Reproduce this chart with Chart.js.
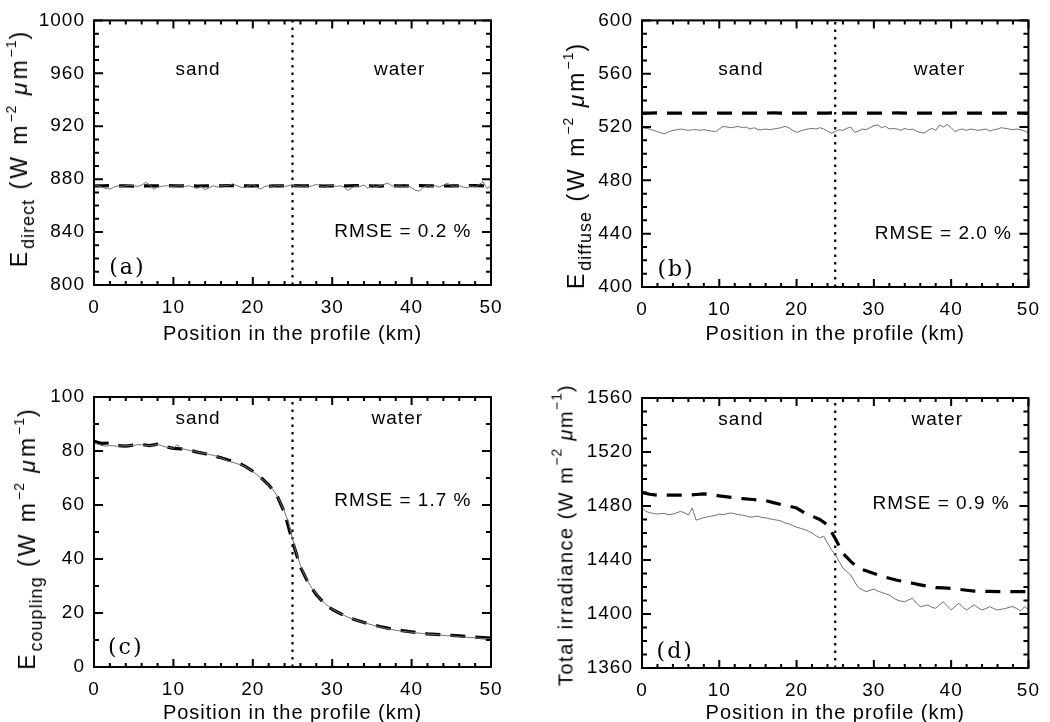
<!DOCTYPE html>
<html>
<head>
<meta charset="utf-8">
<script src="https://cdn.jsdelivr.net/npm/chart.js@4.4.0/dist/chart.umd.min.js"></script>
<style>
    body { margin: 0; background: #fff; }
    #wrap { position: relative; width: 1050px; height: 722px; overflow: hidden; background: #fff; }
    #wrap canvas { position: absolute; }
    .ytitle {
        position: absolute;
        font-family: "Liberation Sans", Arial, sans-serif;
        font-size: 23px;
        letter-spacing: 3px;
        white-space: nowrap;
        color: #000;
        transform: translate(-50%, -50%) rotate(-90deg);
    }
    .ytitle.small { font-size: 20px; letter-spacing: 1.5px; }
    .ytitle sub { font-size: 18px; letter-spacing: 1px; vertical-align: -7px; }
    .ytitle sup { font-size: 14px; letter-spacing: 1px; vertical-align: 11px; }
</style>
</head>
<body>
<div id="wrap">
    <canvas id="cA" width="525" height="380" style="left:0;top:0"></canvas>
    <canvas id="cB" width="525" height="380" style="left:525px;top:0"></canvas>
    <canvas id="cC" width="525" height="380" style="left:0;top:361px"></canvas>
    <canvas id="cD" width="525" height="380" style="left:525px;top:361px"></canvas>

    <div class="ytitle" style="left:21px;top:148px">E<sub>direct</sub> (W m<sup>−2</sup> <i>μ</i>m<sup>−1</sup>)</div>
    <div class="ytitle" style="left:578px;top:165px">E<sub>diffuse</sub> (W m<sup>−2</sup> <i>μ</i>m<sup>−1</sup>)</div>
    <div class="ytitle" style="left:29px;top:538px">E<sub>coupling</sub> (W m<sup>−2</sup> <i>μ</i>m<sup>−1</sup>)</div>
    <div class="ytitle small" style="left:563px;top:535px">Total irradiance (W m<sup>−2</sup> <i>μ</i>m<sup>−1</sup>)</div>
</div>

<script>
// --- Data ---
// position along the profile, km
const kmObs = [0,0.5,1,1.5,2,2.5,3,3.5,4,4.5,5,5.5,6,6.5,7,7.5,8,8.5,9,9.5,
    10,10.5,11,11.5,12,12.5,13,13.5,14,14.5,15,15.5,16,16.5,17,17.5,18,18.5,19,19.5,
    20,20.5,21,21.5,22,22.5,23,23.5,24,24.5,25,25.5,26,26.5,27,27.5,28,28.5,29,29.5,
    30,30.5,31,31.5,32,32.5,33,33.5,34,34.5,35,35.5,36,36.5,37,37.5,38,38.5,39,39.5,
    40,40.5,41,41.5,42,42.5,43,43.5,44,44.5,45,45.5,46,46.5,47,47.5,48,48.5,49,49.5,50];
const kmModel = [0,1,2,3,4,5,6,7,8,9,10,11,12,13,14,15,16,17,18,19,20,21,22,23,24,25,
    26,27,28,29,30,31,32,33,34,35,36,37,38,39,40,41,42,43,44,45,46,47,48,49,50];

// (a) direct irradiance
const directObs = [875,875,874,873,872.5,874,875,874.5,875,875.5,875,874.5,875.5,877.5,876,872.5,874,874.5,875,875,
    874.5,875,875,874.5,875,874,873,874.5,872,873.5,875,874,875,875,875.5,876.5,875,874,873.5,875,
    876,874,872.5,874.5,875,874.5,875,875,874.5,875,876,875,874.5,875,874,875,876,875,874,875,
    875.5,874.5,875,874,871.5,873.5,875,874.5,875.5,873,876,874,875,876,877,875,874.5,875,874,875,
    873.5,871.5,871,874,875,874.5,875,874,875.5,877,875,874.5,875,874,873.5,875,874,876,878,873,875];
const directModel = [875,875,875.2,875,875,874.8,875,875,875,875.2,875,875,875,874.8,875,875,875,875.2,875,875,
    875,875,874.8,875,875,875.2,875,875,875,874.8,875,875,875,875.2,875,875,874.8,875,875,875,
    875,875.2,875,875,874.8,875,875,875,875.2,875,875];

// (b) diffuse irradiance
const diffuseObs = [519.5,519,518.5,517.5,516.5,515.5,515,516.5,517.5,518,518.5,518,517.5,518,518,517.5,518,517.5,517,516.5,
    518.5,520.5,520,519.5,520,520.5,519.5,520,518.5,519.5,518,518,518.5,518,518.5,519,519.5,520.5,519.5,517.5,
    516,517,518,518.5,519,518.5,519.5,518.5,517,515.5,516.5,518,517.5,519,520,516,517,518.5,518,519.5,
    521,521.5,519.5,520.5,518.5,519,518.5,517.5,519,518,518.5,517,516,515.5,517.5,519,517.5,521.5,520,522,
    519.5,516.5,518,518.5,517.5,518.5,518,517.5,518,518.5,517,518,518.5,519.5,519,518.5,518,518.5,518,517,515.5];
const diffuseModel = [530.5,530.5,530.6,530.5,530.5,530.4,530.5,530.5,530.5,530.6,530.5,530.5,530.5,530.4,530.5,530.5,530.5,530.6,530.5,530.5,
    530.5,530.5,530.4,530.5,530.5,530.6,530.5,530.5,530.5,530.4,530.5,530.5,530.5,530.6,530.5,530.5,530.4,530.5,530.5,530.5,
    530.5,530.6,530.5,530.5,530.4,530.5,530.5,530.5,530.6,530.5,530.5];

// (c) coupling irradiance
const couplingObs = [83,82.5,82,81.8,82,81.9,81.7,82,81.8,82.1,82,82.4,82.3,82.1,81.9,82.2,82.4,82,81.5,81.3,
    81,82.3,80.9,80.6,80.2,80,79.6,79.3,79,78.7,78.4,78,77.4,76.8,76.2,75.8,75.3,74.9,74.3,73.4,
    72.4,71.3,70,68.8,67.4,65.8,63.7,60.8,57.5,53.5,47.5,42,37.6,34.2,31.3,29,27,25.2,23.7,22.5,
    21.4,20.6,19.8,19.1,18.4,17.9,17.4,16.9,16.4,16,15.6,15.2,14.8,14.5,14.2,13.9,13.6,13.4,13.2,13,
    12.9,12.7,12.5,12.4,12.2,12.1,12,11.9,11.7,11.6,11.5,11.4,11.2,11.1,11,10.9,10.8,10.7,10.6,10.5,10.4];
const couplingModel = [83.6,82.8,83,82,81.8,82.2,82.4,82,82.5,81.6,81,80.8,80.3,79.6,79,78.2,77.5,76.6,75.8,74.4,
    72.5,70.2,67.5,63.8,57.2,46.5,37,31,26.8,23.6,21.3,19.8,18.4,17.4,16.5,15.7,15,14.4,13.8,13.4,
    13,12.6,12.3,12.1,11.9,11.7,11.5,11.3,11.1,10.9,10.7];

// (d) total irradiance
const totalObs = [1478.8,1476,1475,1474.5,1474,1474.5,1474.3,1473.5,1474,1475,1476,1475,1473.3,1478.5,1469.5,1470.5,1471.3,1472,1472.5,1473,
    1474,1473.5,1474.3,1474.8,1474.3,1473.5,1473.3,1472.5,1471.8,1472,1472.5,1471.5,1471.3,1470.5,1470,1469.5,1468.8,1467.5,1466.8,1465.5,
    1464.3,1463.5,1462.6,1461.5,1460,1458,1456.4,1457.6,1452.7,1447.7,1444,1439,1434,1431.5,1429,1424,1419.5,1418,1416.6,1417.5,
    1418.5,1417,1416,1415,1414,1412,1410.4,1409.5,1409,1410.5,1411.7,1408,1405.5,1406,1406.7,1405,1404.2,1407,1409,1406,
    1403,1405.5,1408,1405,1403,1405,1406.7,1404.5,1403,1404,1405.5,1404,1403,1403.5,1404,1405,1405.5,1404,1402.3,1405.5,1403];
const totalModel = [1490,1488.7,1488,1488,1488,1488,1488,1488.5,1489,1488.5,1487.5,1486.8,1486,1485.5,1485,1484.5,1484,1482.5,1481,1480,
    1478.5,1475,1472.5,1470,1466,1456,1445,1439,1434,1432,1430,1428,1426.5,1425,1424,1422.8,1421.6,1420.5,1419.6,1419.3,
    1419,1418.3,1417.6,1417,1416.8,1416.7,1416.6,1416.6,1416.6,1416.6,1416.6];

const boundaryKm = 25;
const surfaceNames = ["sand", "water"];
const panelLetters = ["(a)", "(b)", "(c)", "(d)"];
const rmseLabels = ["RMSE = 0.2 %", "RMSE = 2.0 %", "RMSE = 1.7 %", "RMSE = 0.9 %"];
const yRanges = [[800, 1000], [400, 600], [0, 100], [1360, 1560]];
const yMajorSteps = [40, 40, 20, 40];
const yMinorSteps = [10, 10, 10, 10];
const xRange = [0, 50];
const xMajorStep = 10;
const xMinorStep = 2;

// --- Panel layout (pixel boxes inside each 525x380 canvas) ---
const panelSetup = [
    { canvas: "cA", obs: directObs,   model: directModel,   area: { l: 94,  t: 14, r: 491, b: 285 }, titlePad: 36,
      notes: { sand: [13.1, 963], water: [38.5, 963], rmse: [38.9, 840.6], letter: [4.2, 813] } },
    { canvas: "cB", obs: diffuseObs,  model: diffuseModel,  area: { l: 117, t: 16, r: 512, b: 287 }, titlePad: 36,
      notes: { sand: [12.8, 563], water: [38.5, 563], rmse: [39.0, 440], letter: [4.4, 412.5] } },
    { canvas: "cC", obs: couplingObs, model: couplingModel, area: { l: 94,  t: 36, r: 491, b: 306 }, titlePad: 18,
      notes: { sand: [13.1, 91.9], water: [38.2, 91.9], rmse: [38.9, 61.5], letter: [4.0, 7] } },
    { canvas: "cD", obs: totalObs,    model: totalModel,    area: { l: 117, t: 37, r: 512, b: 307 }, titlePad: 18,
      notes: { sand: [12.8, 1543.7], water: [38.2, 1543.7], rmse: [38.7, 1482], letter: [4.3, 1372] } }
];

const SANS = '"Liberation Sans", Arial, sans-serif';

// --- Box frame with inward major/minor ticks on all four sides ---
const frameTicks = {
    id: "frameTicks",
    beforeDraw(chart) {
        chart.ctx.letterSpacing = "1px";
    },
    afterDatasetsDraw(chart, args, o) {
        const { ctx, chartArea: a, scales: { x, y } } = chart;
        ctx.save();
        ctx.letterSpacing = "0px";
        ctx.strokeStyle = "#000";
        ctx.lineWidth = 2;
        ctx.strokeRect(a.left, a.top, a.right - a.left, a.bottom - a.top);

        ctx.beginPath();
        const nx = Math.round((x.max - x.min) / o.xMinor);
        for (let i = 0; i <= nx; i++) {
            const v = x.min + i * o.xMinor;
            const px = x.getPixelForValue(v);
            const len = (Math.abs(v % o.xMajor) < 1e-6) ? 8 : 4;
            ctx.moveTo(px, a.bottom); ctx.lineTo(px, a.bottom - len);
            ctx.moveTo(px, a.top); ctx.lineTo(px, a.top + len);
        }
        const ny = Math.round((y.max - y.min) / o.yMinor);
        for (let i = 0; i <= ny; i++) {
            const v = y.min + i * o.yMinor;
            const py = y.getPixelForValue(v);
            const len = (Math.abs((v - y.min) % o.yMajor) < 1e-6) ? 9 : 5;
            ctx.moveTo(a.left, py); ctx.lineTo(a.left + len, py);
            ctx.moveTo(a.right, py); ctx.lineTo(a.right - len, py);
        }
        ctx.stroke();

        // text notes at data coordinates
        ctx.fillStyle = "#000";
        ctx.textBaseline = "middle";
        ctx.textAlign = "center";
        ctx.letterSpacing = "1px";
        ctx.font = "19px " + SANS;
        const n = o.notes;
        ctx.fillText(surfaceNames[0], x.getPixelForValue(n.sand[0]), y.getPixelForValue(n.sand[1]));
        ctx.fillText(surfaceNames[1], x.getPixelForValue(n.water[0]), y.getPixelForValue(n.water[1]));
        ctx.fillText(o.rmse, x.getPixelForValue(n.rmse[0]), y.getPixelForValue(n.rmse[1]));
        ctx.font = '22px "DejaVu Serif", serif';
        ctx.letterSpacing = "2px";
        ctx.fillText(o.letter, x.getPixelForValue(n.letter[0]), y.getPixelForValue(n.letter[1]));
        ctx.restore();
    },
    afterDraw(chart) {
        chart.ctx.letterSpacing = "0px";
    }
};

function makePanel(idx) {
    const p = panelSetup[idx];
    const [yMin, yMax] = yRanges[idx];
    const obsPts = kmObs.map((k, i) => ({ x: k, y: p.obs[i] }));
    const modelPts = kmModel.map((k, i) => ({ x: k, y: p.model[i] }));
    const ctx = document.getElementById(p.canvas).getContext("2d");

    return new Chart(ctx, {
        type: "line",
        data: {
            datasets: [
                {
                    data: obsPts,
                    borderColor: "#707070",
                    borderWidth: 1,
                    pointRadius: 0,
                    tension: 0
                },
                {
                    data: modelPts,
                    borderColor: "#000",
                    borderWidth: 3.2,
                    borderDash: [15, 10],
                    pointRadius: 0,
                    tension: 0
                },
                {
                    data: [{ x: boundaryKm, y: yMin }, { x: boundaryKm, y: yMax }],
                    borderColor: "#000",
                    borderWidth: 2.2,
                    borderDash: [2.5, 5],
                    pointRadius: 0
                }
            ]
        },
        options: {
            responsive: false,
            animation: false,
            devicePixelRatio: 1,
            layout: { padding: { left: 0, top: p.area.t, right: 525 - p.area.r, bottom: 0 } },
            plugins: {
                legend: { display: false },
                tooltip: { enabled: false },
                frameTicks: {
                    xMajor: xMajorStep, xMinor: xMinorStep,
                    yMajor: yMajorSteps[idx], yMinor: yMinorSteps[idx],
                    notes: p.notes, rmse: rmseLabels[idx], letter: panelLetters[idx]
                }
            },
            scales: {
                x: {
                    type: "linear",
                    min: xRange[0],
                    max: xRange[1],
                    grid: { display: false, drawTicks: false },
                    border: { display: false },
                    ticks: {
                        stepSize: xMajorStep,
                        padding: 11,
                        color: "#000",
                        maxRotation: 0,
                        font: { family: SANS, size: 19 },
                        callback: v => String(v)
                    },
                    title: {
                        display: true,
                        text: "Position in the profile (km)",
                        color: "#000",
                        font: { family: SANS, size: 20, lineHeight: 1 },
                        padding: { top: 0, bottom: p.titlePad }
                    },
                    afterFit: s => { s.height = 380 - p.area.b; }
                },
                y: {
                    min: yMin,
                    max: yMax,
                    grid: { display: false, drawTicks: false },
                    border: { display: false },
                    ticks: {
                        stepSize: yMajorSteps[idx],
                        padding: 9,
                        color: "#000",
                        font: { family: SANS, size: 19 },
                        callback: v => String(v)
                    },
                    afterFit: s => { s.width = p.area.l; }
                }
            }
        },
        plugins: [frameTicks]
    });
}

document.addEventListener("DOMContentLoaded", function () {
    panelSetup.forEach((p, i) => makePanel(i));
});
</script>
</body>
</html>
